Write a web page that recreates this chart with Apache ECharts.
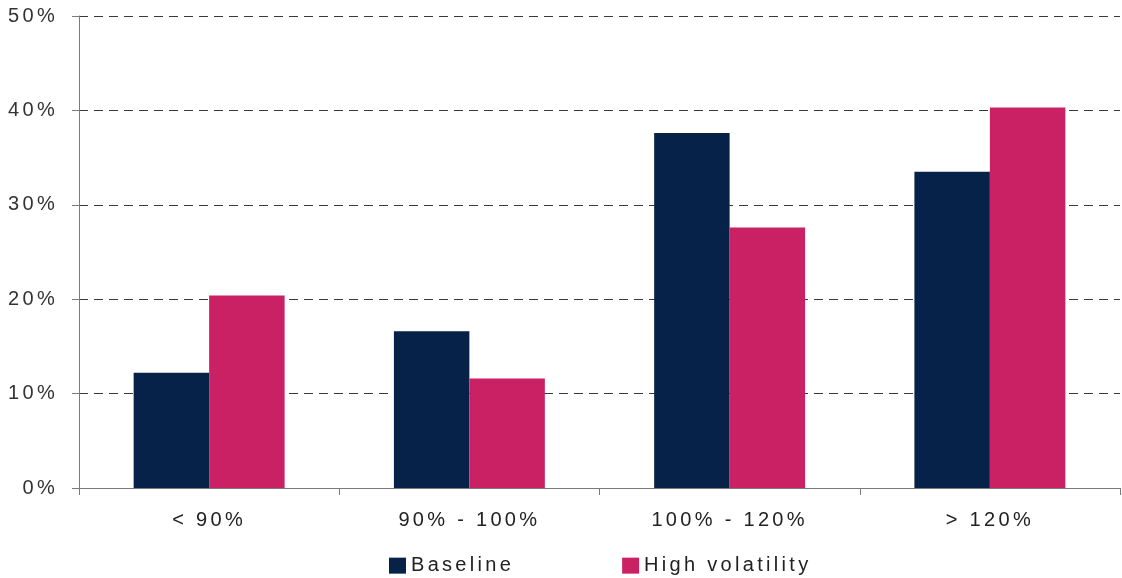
<!DOCTYPE html>
<html>
<head>
<meta charset="utf-8">
<script src="https://cdn.jsdelivr.net/npm/echarts@6/dist/echarts.min.js"></script>
<style>
  html, body { margin: 0; padding: 0; background: #fff; }
  #chart { width: 1122px; height: 578px; }
</style>
</head>
<body>
<div id="chart"></div>
<script>
// Wide-tracked lettering used throughout the chart text
const LETTER_SPACING = '3.3px';
(function () {
  const proto = CanvasRenderingContext2D.prototype;
  const fill = proto.fillText, measure = proto.measureText;
  proto.fillText = function () { this.letterSpacing = LETTER_SPACING; return fill.apply(this, arguments); };
  proto.measureText = function () { this.letterSpacing = LETTER_SPACING; return measure.apply(this, arguments); };
})();

const categories = ['< 90%', '90% - 100%', '100% - 120%', '> 120%'];
const seriesNames = ['Baseline', 'High volatility'];
const baseline = [12.2, 16.6, 37.6, 33.5];
const highVolatility = [20.4, 11.6, 27.6, 40.3];
const yTicks = [0, 10, 20, 30, 40, 50];

const FONT = '"Liberation Sans", Arial, sans-serif';
const chart = echarts.init(document.getElementById('chart'), null, { renderer: 'canvas' });

chart.setOption({
  animation: false,
  backgroundColor: '#ffffff',
  grid: { left: 79, right: 2, top: 16, bottom: 90, containLabel: false },
  legend: {
    data: seriesNames,
    left: 389,
    top: 554,
    padding: 0,
    itemWidth: 17,
    itemHeight: 16,
    itemGap: 108,
    icon: 'rect',
    textStyle: { fontFamily: FONT, fontSize: 20, color: '#222', lineHeight: 18, padding: [0, 0, 0, 0] },
    itemStyle: { borderWidth: 0 }
  },
  xAxis: {
    type: 'category',
    data: categories,
    axisLine: { lineStyle: { color: '#7a7a7a', width: 1 } },
    axisTick: { show: true, length: 7, interval: 0, lineStyle: { color: '#7a7a7a' } },
    axisLabel: { fontFamily: FONT, fontSize: 20, color: '#222', margin: 21, interval: 0 },
    splitLine: { show: false }
  },
  yAxis: {
    type: 'value',
    min: yTicks[0],
    max: yTicks[yTicks.length - 1],
    interval: 10,
    axisLine: { show: true, lineStyle: { color: '#7a7a7a', width: 1 } },
    axisTick: { show: true, length: 7, lineStyle: { color: '#7a7a7a' } },
    axisLabel: { fontFamily: FONT, fontSize: 20, color: '#333', margin: 21, formatter: '{value}%' },
    splitLine: { show: true, lineStyle: { color: '#3a3a3a', type: [9, 6], width: 1 } }
  },
  series: [
    {
      name: seriesNames[0],
      type: 'bar',
      data: baseline,
      barGap: '0%',
      barCategoryGap: '42%',
      itemStyle: { color: '#072249' }
    },
    {
      name: seriesNames[1],
      type: 'bar',
      data: highVolatility,
      barGap: '0%',
      barCategoryGap: '42%',
      itemStyle: { color: '#C92163' }
    }
  ]
});
</script>
</body>
</html>
